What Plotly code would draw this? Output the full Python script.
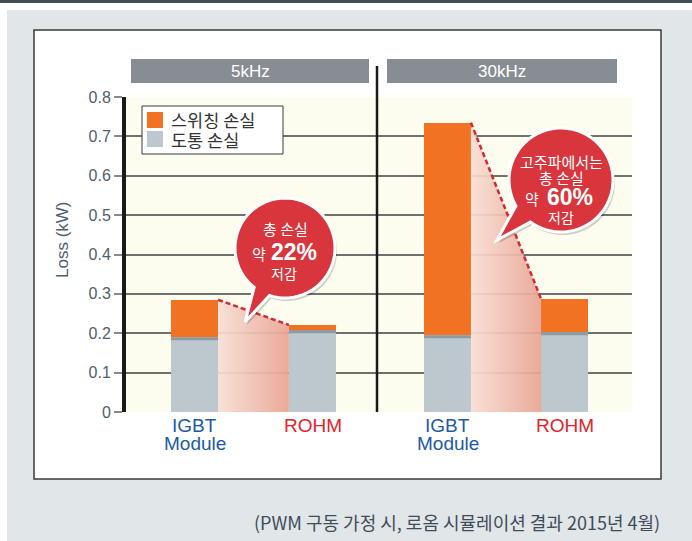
import math
import plotly.graph_objects as go

# ---------------- data ----------------
groups = ["5kHz", "30kHz"]
devices = ["IGBT Module", "ROHM"]
device_label_lines = [["IGBT", "Module"], ["ROHM"]]
device_label_colors = ["#1d5aa6", "#e4222b"]
series_names = ["스위칭 손실", "도통 손실"]
conduction_5k = [0.190, 0.208]
switching_5k = [0.095, 0.013]
conduction_30k = [0.195, 0.203]
switching_30k = [0.540, 0.084]
y_tick_vals = [0, 0.1, 0.2, 0.3, 0.4, 0.5, 0.6, 0.7, 0.8]
y_tick_text = ["0", "0.1", "0.2", "0.3", "0.4", "0.5", "0.6", "0.7", "0.8"]
bubble_lines_5k = ["총 손실", "약", "22%", "저감"]
bubble_lines_30k = ["고주파에서는", "총 손실", "약", "60%", "저감"]
footnote = "(PWM 구동 가정 시, 로옴 시뮬레이션 결과 2015년 4월)"
y_title = "Loss (kW)"

# ---------------- styles ----------------
W, H = 692, 541
L, R, T, B = 126, 60, 97, 129
PW, PH = W - L - R, H - T - B
ORANGE = "#f07222"
GREY = "#bcc8cd"
GREY_DARK = "#8e9ba3"
RED = "#d8353d"
LATIN = "Liberation Sans, Arial, sans-serif"
KR = "Noto Sans CJK KR, sans-serif"
TICKCOL = "#4e606c"


def px(x):
    return (x - L) / PW


def py(y):
    return (H - B - y) / PH


DIV_X = 377
split = px(DIV_X)

fig = go.Figure()

positions = list(range(len(devices)))
BAR_W = 0.4
panels = [
    ("x", "y", conduction_5k, switching_5k),
    ("x2", "y2", conduction_30k, switching_30k),
]

shapes = []
annotations = []

# page background decorations
shapes.append(dict(type="rect", xref="paper", yref="paper", x0=px(7), x1=px(W + 5), y0=py(10), y1=py(H + 5),
                   fillcolor="#e1e6e9", line=dict(width=0), layer="below"))
shapes.append(dict(type="rect", xref="paper", yref="paper", x0=px(-5), x1=px(W + 5), y0=py(-5), y1=py(3),
                   fillcolor="#3f4f58", line=dict(width=0), layer="below"))
shapes.append(dict(type="rect", xref="paper", yref="paper", x0=px(34), x1=px(661), y0=py(30), y1=py(479),
                   fillcolor="white", line=dict(color="#3a3a3a", width=1.5), layer="below"))
shapes.append(dict(type="rect", xref="paper", yref="paper", x0=0, x1=1, y0=0, y1=1,
                   fillcolor="#fdfdef", line=dict(width=0), layer="below"))

for xa, ya, cond, sw in panels:
    totals = [c + s for c, s in zip(cond, sw)]
    xl = positions[0] + BAR_W / 2
    xr = positions[1] - BAR_W / 2
    fig.add_trace(go.Scatter(
        x=[xl, xl, xr, xr, xl], y=[0, totals[0], totals[1], 0, 0],
        mode="lines", fill="toself", line=dict(width=0),
        fillgradient=dict(type="horizontal",
                          colorscale=[[0, "rgba(248,222,212,0.92)"], [1, "rgba(233,163,146,0.92)"]]),
        xaxis=xa, yaxis=ya, showlegend=False, hoverinfo="skip"))
    fig.add_trace(go.Bar(x=positions, y=cond, width=BAR_W, marker=dict(color=GREY, line=dict(width=0)),
                         name=series_names[1], xaxis=xa, yaxis=ya, showlegend=False))
    fig.add_trace(go.Bar(x=positions, y=sw, width=BAR_W, marker=dict(color=ORANGE, line=dict(width=0)),
                         name=series_names[0], xaxis=xa, yaxis=ya, showlegend=False))
    fig.add_trace(go.Scatter(
        x=[xl, xr], y=[totals[0], totals[1]], mode="lines",
        line=dict(color="#d22a33", width=2.5, dash="5px,3px"),
        xaxis=xa, yaxis=ya, showlegend=False, hoverinfo="skip"))
    for p, c in zip(positions, cond):
        shapes.append(dict(type="rect", xref=xa, yref=ya, x0=p - BAR_W / 2, x1=p + BAR_W / 2,
                           y0=c - 0.008, y1=c, fillcolor=GREY_DARK, line=dict(width=0), layer="above"))
    for p, lines, col in zip(positions, device_label_lines, device_label_colors):
        for i, t in enumerate(lines):
            annotations.append(dict(text=t, xref=xa, yref="paper", x=p, y=py(425 + 18 * i),
                                    showarrow=False, xanchor="center", yanchor="middle",
                                    font=dict(family=LATIN, size=19, color=col)))

# header bars
for g, (x0, x1) in zip(groups, [(131, 369), (387, 617)]):
    shapes.append(dict(type="rect", xref="paper", yref="paper", x0=px(x0), x1=px(x1), y0=py(59), y1=py(83),
                       fillcolor="#878d92", line=dict(width=0), layer="below"))
    annotations.append(dict(text=g, xref="paper", yref="paper", x=px((x0 + x1) / 2), y=py(71),
                            xanchor="center", yanchor="middle",
                            showarrow=False, font=dict(family=LATIN, size=17, color="white")))

# divider
shapes.append(dict(type="line", xref="paper", yref="paper", x0=split, x1=split, y0=py(66), y1=py(412),
                   line=dict(color="#1a1a1a", width=2.5), layer="above"))

# legend
shapes.append(dict(type="rect", xref="paper", yref="paper", x0=px(142), x1=px(283), y0=py(106), y1=py(154),
                   fillcolor="white", line=dict(color="#3a3a3a", width=1), layer="above"))
for i, (nm, col) in enumerate(zip(series_names, [ORANGE, GREY])):
    yc = 120 + 19 * i
    shapes.append(dict(type="rect", xref="paper", yref="paper", x0=px(147), x1=px(163), y0=py(yc - 8),
                       y1=py(yc + 8), fillcolor=col, line=dict(width=0), layer="above"))
    annotations.append(dict(text=nm, xref="paper", yref="paper", x=px(169), y=py(yc), xanchor="left",
                            yanchor="middle", showarrow=False, font=dict(family=KR, size=17.5, color="#333333")))


def bubble_path(cx, cy, r, a1, a2, tip, dx=0, dy=0):
    pts = [tip]
    n = 72
    start, end = a1, a2 + 360
    for k in range(n + 1):
        a = math.radians(start + (end - start) * k / n)
        pts.append((cx + r * math.cos(a), cy + r * math.sin(a)))
    return "M " + " L ".join(f"{px(x + dx):.5f},{py(y + dy):.5f}" for x, y in pts) + " Z"


for cx, cy, r, a1, a2, tip in [(285, 248, 50, 128, 108, (245, 322)),
                               (561, 180, 52, 150, 126, (497, 240))]:
    shapes.append(dict(type="path", xref="paper", yref="paper", path=bubble_path(cx, cy, r, a1, a2, tip, 2, 3),
                       fillcolor="rgba(0,0,0,0.18)", line=dict(width=0), layer="above"))
    shapes.append(dict(type="path", xref="paper", yref="paper", path=bubble_path(cx, cy, r, a1, a2, tip),
                       fillcolor=RED, line=dict(color="white", width=3), layer="above"))


def btxt(t, x, y, size, bold=False):
    annotations.append(dict(text=f"<b>{t}</b>" if bold else t, xref="paper", yref="paper", x=px(x), y=py(y),
                            showarrow=False, xanchor="center", yanchor="middle",
                            font=dict(family=LATIN if t.endswith("%") else KR, size=size, color="white")))


btxt(bubble_lines_5k[0], 285, 228, 15)
btxt(bubble_lines_5k[1], 259, 253, 15)
btxt(bubble_lines_5k[2], 294, 252, 23, bold=True)
btxt(bubble_lines_5k[3], 284, 273, 14)

btxt(bubble_lines_30k[0], 561, 161, 15)
btxt(bubble_lines_30k[1], 561, 177, 15)
btxt(bubble_lines_30k[2], 532, 198, 15)
btxt(bubble_lines_30k[3], 570, 197, 23, bold=True)
btxt(bubble_lines_30k[4], 561, 217, 14)

annotations.append(dict(text=y_title, xref="paper", yref="paper", x=px(62), y=py(240), textangle=-90,
                        xanchor="center", yanchor="middle",
                        showarrow=False, font=dict(family=LATIN, size=17, color=TICKCOL)))
annotations.append(dict(text=footnote, xref="paper", yref="paper", x=px(662), y=py(522), xanchor="right",
                        yanchor="middle", showarrow=False, font=dict(family=KR, size=18, color="#3f4d57")))

s1 = 118
s2 = 117
x1_left = -(194.5 - L) / s1
x2_left = -(447.5 - DIV_X) / s2
yax_common = dict(range=[0, 0.8], showgrid=True, gridcolor="#707070", gridwidth=1.5, zeroline=False,
                  tickvals=y_tick_vals, fixedrange=True)

fig.update_layout(
    width=W, height=H, margin=dict(l=L, r=R, t=T, b=B, pad=0),
    paper_bgcolor="white", plot_bgcolor="rgba(0,0,0,0)",
    barmode="stack", bargap=0, showlegend=False,
    xaxis=dict(domain=[0, split], range=[x1_left, x1_left + (DIV_X - L) / s1], showgrid=False,
               zeroline=False, showticklabels=False, ticks="", anchor="y"),
    xaxis2=dict(domain=[split, 1], range=[x2_left, x2_left + (W - R - DIV_X) / s2], showgrid=False,
                zeroline=False, showticklabels=False, ticks="", anchor="y2"),
    yaxis=dict(**yax_common, ticktext=y_tick_text, ticks="outside", ticklen=8, tickwidth=1.5,
               tickcolor="#8a8a8a", showline=True, linecolor="#1a1a1a", linewidth=4,
               tickfont=dict(family=LATIN, size=16, color=TICKCOL), anchor="x"),
    yaxis2=dict(**yax_common, showticklabels=False, ticks="", anchor="x2", matches="y"),
    shapes=shapes, annotations=annotations,
)

fig.write_html("out.html", config={"displayModeBar": False},
               post_script="document.body.style.margin='0';document.body.style.overflow='hidden';")
